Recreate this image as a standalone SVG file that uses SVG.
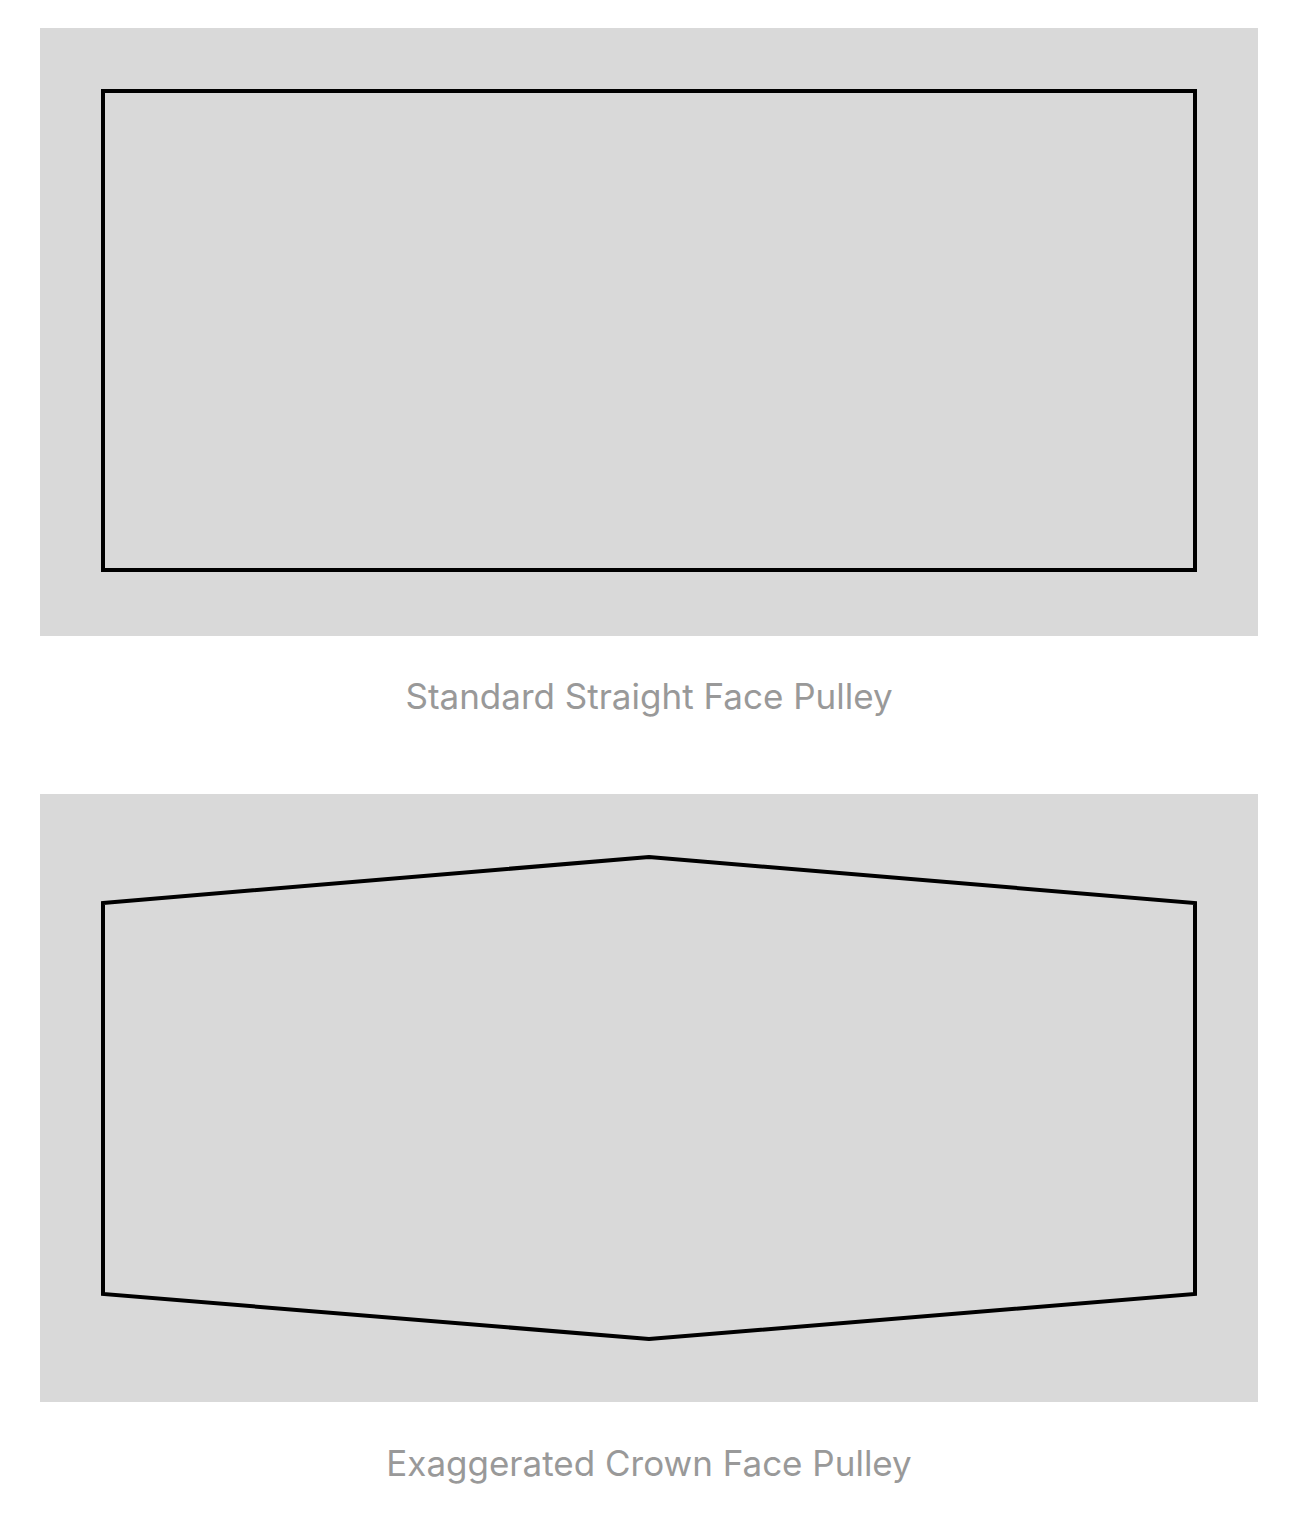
<svg xmlns="http://www.w3.org/2000/svg" width="1294" height="1518" viewBox="0 0 1294 1518">
<style>
.bg{fill:#d9d9d9}
.shape{fill:none;stroke:#000;stroke-width:4;stroke-linejoin:miter}
.cap{font-family:Inter,"Noto Sans",sans-serif;font-size:35px;fill:#999;text-anchor:middle}
</style>
<rect width="1294" height="1518" fill="#fff"/>
<g id="straight-pulley">
<rect class="bg" x="40" y="28" width="1218" height="608"/>
<rect class="shape" x="103" y="91" width="1092" height="479"/>
<text class="cap" x="649" y="709">Standard Straight Face Pulley</text>
</g>
<g id="crown-pulley">
<rect class="bg" x="40" y="794" width="1218" height="608"/>
<polygon class="shape" points="103,903 649,857 1195,903 1195,1294 649,1339 103,1294"/>
<text class="cap" x="649" y="1476">Exaggerated Crown Face Pulley</text>
</g>
<g id="connectors"/>
</svg>
